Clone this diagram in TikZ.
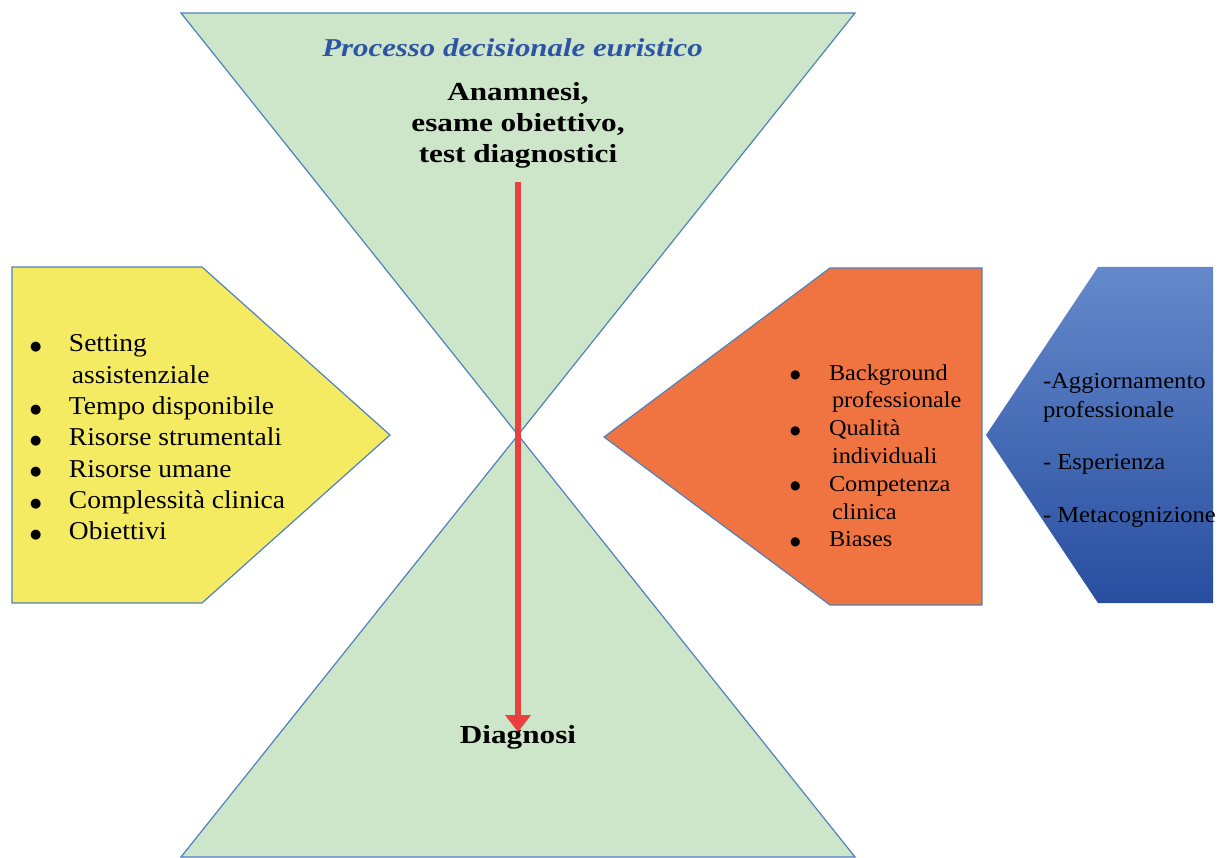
\documentclass[tikz,border=0pt]{standalone}
\usepackage{fontspec}
\setmainfont[FakeStretch=1.07]{Liberation Serif}
\newfontfamily\widebold[FakeStretch=1.2]{Liberation Serif}
\newfontfamily\dotfont{DejaVu Sans}
\usetikzlibrary{arrows.meta}

\definecolor{hourgreen}{RGB}{205,229,200}
\definecolor{edgeblue}{RGB}{79,129,189}
\definecolor{listyellow}{RGB}{244,235,99}
\definecolor{listorange}{RGB}{240,116,66}
\definecolor{bluetop}{RGB}{100,137,203}
\definecolor{bluebot}{RGB}{40,78,160}
\definecolor{titleblue}{RGB}{46,84,166}
\definecolor{arrowred}{RGB}{233,64,62}

% list bullet: a round dot of the given size, set a little higher
\newcommand{\bigdot}[1]{\raisebox{1.5pt}{\dotfont\fontsize{#1}{#1}\selectfont ●}}

\tikzset{
  panel/.style={draw=edgeblue, line width=1.2pt, line join=miter},
  txt/.style={inner sep=0pt, outer sep=0pt, text=black},
  arrowline/.style={draw=arrowred, line width=5.5pt,
    -{Triangle[width=25pt,length=17pt]}},
}

\begin{document}
\begin{tikzpicture}[x=1pt,y=-1pt]
\useasboundingbox (0,0) rectangle (1220,858);

% hourglass
\filldraw[panel, fill=hourgreen] (181,13) -- (855,13) -- (518,435) -- cycle;
\filldraw[panel, fill=hourgreen] (518,435) -- (855,857) -- (181,857) -- cycle;

% context factors (yellow)
\filldraw[panel, fill=listyellow] (12,267) -- (202,267) -- (390,435) -- (202,603) -- (12,603) -- cycle;

% clinician factors (orange)
\filldraw[panel, fill=listorange] (604,437) -- (830,268) -- (982,268) -- (982,605) -- (830,605) -- cycle;

% improvement factors (blue)
\shade[top color=bluetop, bottom color=bluebot] (1098,267) -- (1213,267) -- (1213,603) -- (1098,603) -- (986,435) -- cycle;

% titles and texts
\node[txt, anchor=base, text=titleblue] (titolo) at (512.5,57)
  {\fontsize{25.7}{31}\widebold\bfseries\itshape Processo decisionale euristico};

\node[txt, anchor=base] (anamnesi) at (518,101)
  {\fontsize{26}{31}\widebold\bfseries
   \begin{tabular}[t]{@{}c@{}}Anamnesi,\\ esame obiettivo,\\ test diagnostici\end{tabular}};

\node[txt, anchor=base] (diagnosi) at (518,743)
  {\fontsize{26}{31}\widebold\bfseries Diagnosi};

\node[txt, anchor=base west] (fattori) at (30,352)
  {\fontsize{25.7}{31.3}\selectfont
   \begin{tabular}[t]{@{}p{39pt}@{}l@{}}
   \bigdot{13pt} & Setting\\
                 & \hspace{3pt}assistenziale\\
   \bigdot{13pt} & Tempo disponibile\\
   \bigdot{13pt} & Risorse strumentali\\
   \bigdot{13pt} & Risorse umane\\
   \bigdot{13pt} & Complessità clinica\\
   \bigdot{13pt} & Obiettivi
   \end{tabular}};

\node[txt, anchor=base west] (clinico) at (790,380)
  {\fontsize{22.7}{27.8}\selectfont
   \begin{tabular}[t]{@{}p{39pt}@{}l@{}}
   \bigdot{12pt} & Background\\
                 & \hspace{3pt}professionale\\
   \bigdot{12pt} & Qualità\\
                 & \hspace{3pt}individuali\\
   \bigdot{12pt} & Competenza\\
                 & \hspace{3pt}clinica\\
   \bigdot{12pt} & Biases
   \end{tabular}};

\node[txt, anchor=base west] (crescita) at (1043,388)
  {\fontsize{23}{29}\selectfont
   \begin{tabular}[t]{@{}l@{}}
   -Aggiornamento\\
   professionale\\[23.5pt]
   - Esperienza\\[23.5pt]
   - Metacognizione
   \end{tabular}};

% reasoning path
\coordinate (inizio) at (518,182);
\coordinate (fine) at (518,732);
\draw[arrowline] (inizio) -- (fine);
\end{tikzpicture}
\end{document}
